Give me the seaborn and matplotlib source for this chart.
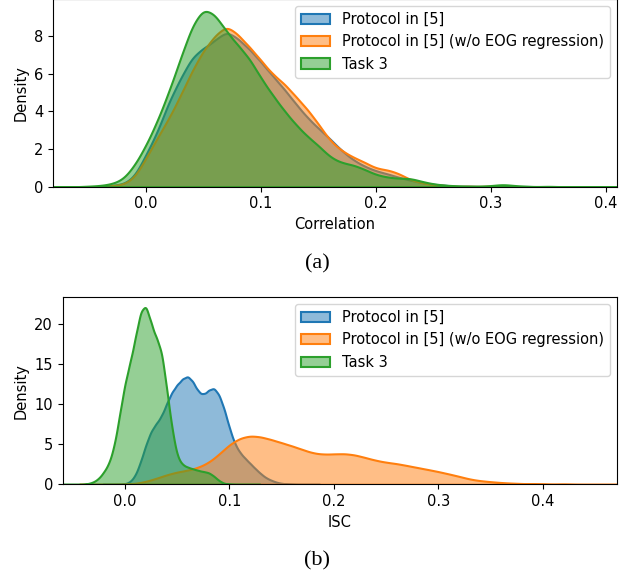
import numpy as np
import matplotlib
matplotlib.use("Agg")
import matplotlib.pyplot as plt
import seaborn as sns

labels = ["Protocol in [5]", "Protocol in [5] (w/o EOG regression)", "Task 3"]
colors = ["#1f77b4", "#ff7f0e", "#2ca02c"]

# ---- (a) Correlation: density values ----
corr_x_blue = [-0.05, -0.03, -0.02, -0.01, 0.0, 0.01, 0.02, 0.03, 0.04, 0.05, 0.06, 0.07,
               0.08, 0.09, 0.10, 0.11, 0.12, 0.13, 0.14, 0.15, 0.16, 0.17, 0.18, 0.19,
               0.20, 0.21, 0.22, 0.23, 0.24, 0.25, 0.26, 0.28, 0.30, 0.33, 0.38]
corr_d_blue = [0.0, 0.05, 0.12, 0.5, 1.75, 2.95, 4.65, 5.85, 7.05, 7.5, 7.9, 8.5,
               8.0, 7.45, 6.75, 6.0, 5.3, 4.5, 3.75, 3.15, 2.6, 1.95, 1.45, 1.1,
               0.85, 0.7, 0.5, 0.35, 0.22, 0.12, 0.06, 0.02, 0.01, 0.005, 0.0]

corr_x_orange = [-0.05, -0.03, -0.02, -0.01, 0.0, 0.01, 0.02, 0.03, 0.04, 0.05, 0.06, 0.07,
                 0.08, 0.09, 0.10, 0.11, 0.12, 0.13, 0.14, 0.15, 0.16, 0.17, 0.18, 0.19,
                 0.20, 0.21, 0.22, 0.23, 0.24, 0.25, 0.26, 0.28, 0.30, 0.38]
corr_d_orange = [0.0, 0.04, 0.1, 0.45, 1.5, 2.6, 3.6, 4.8, 6.1, 7.2, 7.95, 8.55,
                 8.0, 7.35, 6.65, 5.9, 5.45, 4.75, 4.1, 3.3, 2.4, 1.9, 1.55, 1.3,
                 0.95, 0.9, 0.7, 0.35, 0.2, 0.1, 0.05, 0.02, 0.01, 0.0]

corr_x_green = [-0.06, -0.05, -0.04, -0.03, -0.02, -0.01, 0.0, 0.01, 0.02, 0.03, 0.04, 0.05,
                0.06, 0.07, 0.08, 0.09, 0.10, 0.11, 0.12, 0.13, 0.14, 0.15, 0.16, 0.17,
                0.18, 0.19, 0.20, 0.21, 0.22, 0.23, 0.24, 0.25, 0.26, 0.27, 0.28, 0.29,
                0.30, 0.31, 0.32, 0.33, 0.35, 0.39]
corr_d_green = [0.0, 0.03, 0.06, 0.15, 0.38, 1.15, 2.25, 3.6, 5.2, 7.0, 8.8, 9.8,
                9.4, 8.45, 7.7, 7.0, 5.9, 5.0, 4.15, 3.4, 2.75, 2.25, 1.6, 1.3,
                1.2, 0.95, 0.65, 0.52, 0.45, 0.47, 0.28, 0.15, 0.08, 0.05, 0.03, 0.03,
                0.05, 0.14, 0.06, 0.02, 0.01, 0.0]

# ---- (b) ISC ----
isc_x_blue = [-0.005, 0.0, 0.005, 0.01, 0.015, 0.02, 0.025, 0.03, 0.035, 0.04, 0.045, 0.05,
              0.055, 0.06, 0.065, 0.07, 0.075, 0.08, 0.085, 0.09, 0.095, 0.10, 0.105, 0.11,
              0.115, 0.12, 0.125, 0.13, 0.135, 0.14, 0.145, 0.15, 0.155, 0.16, 0.17]
isc_d_blue = [0.0, 0.05, 0.3, 1.1, 2.8, 4.9, 6.6, 7.5, 8.4, 10.0, 11.4, 12.3,
              13.0, 13.4, 12.7, 11.4, 11.0, 11.6, 11.95, 11.1, 9.3, 6.9, 5.0, 3.9,
              3.2, 2.55, 1.9, 1.3, 0.8, 0.5, 0.25, 0.12, 0.05, 0.02, 0.0]

isc_x_orange = [-0.01, 0.0, 0.01, 0.02, 0.03, 0.04, 0.05, 0.06, 0.07, 0.08, 0.09, 0.10,
                0.11, 0.12, 0.13, 0.14, 0.15, 0.16, 0.17, 0.18, 0.19, 0.20, 0.21, 0.22,
                0.23, 0.24, 0.25, 0.26, 0.27, 0.28, 0.29, 0.30, 0.31, 0.32, 0.33, 0.34,
                0.35, 0.36, 0.37, 0.38, 0.39, 0.40, 0.42, 0.45]
isc_d_orange = [0.0, 0.02, 0.1, 0.35, 0.75, 1.2, 1.55, 1.75, 2.1, 2.7, 3.75, 5.0,
                5.8, 6.1, 5.95, 5.6, 5.2, 4.8, 4.35, 3.9, 3.75, 3.8, 3.85, 3.7,
                3.35, 3.0, 2.75, 2.6, 2.35, 2.1, 1.85, 1.6, 1.3, 1.0, 0.65, 0.45,
                0.33, 0.22, 0.15, 0.1, 0.06, 0.04, 0.02, 0.0]

isc_x_green = [-0.04, -0.035, -0.03, -0.025, -0.02, -0.015, -0.01, -0.005, 0.0, 0.005, 0.01,
               0.015, 0.02, 0.025, 0.03, 0.035, 0.04, 0.045, 0.05, 0.055, 0.06, 0.065,
               0.07, 0.075, 0.08, 0.085, 0.09, 0.095, 0.10, 0.11]
isc_d_green = [0.0, 0.1, 0.3, 0.75, 1.6, 2.7, 5.0, 8.9, 12.8, 15.4, 18.5,
               21.9, 22.7, 20.2, 18.4, 16.9, 11.9, 6.9, 3.4, 2.45, 2.15, 1.95,
               1.75, 1.6, 1.5, 1.05, 0.45, 0.1, 0.02, 0.0]


def draw_density(ax, xs, ds, h, color, label):
    xs = np.asarray(xs, float)
    ds = np.asarray(ds, float)
    w = ds * np.gradient(xs)
    sd = np.sqrt(np.cov(xs, aweights=w))
    sns.kdeplot(x=xs, weights=w, bw_method=h / sd, fill=True, alpha=0.5,
                color=color, label=label, linewidth=1.5, gridsize=800, ax=ax)


plt.rcParams["font.size"] = 10.5

fig = plt.figure(figsize=(6.34, 5.77), dpi=100)
W, H = 634, 577

def place(l, r, t, b):
    return fig.add_axes([l / W, 1 - b / H, (r - l) / W, (b - t) / H])

ax1 = place(53, 617, -1, 186.7)
ax2 = place(62.7, 617, 297, 484.3)

draw_density(ax1, corr_x_blue, corr_d_blue, 0.0065, colors[0], labels[0])
draw_density(ax1, corr_x_orange, corr_d_orange, 0.0065, colors[1], labels[1])
draw_density(ax1, corr_x_green, corr_d_green, 0.0065, colors[2], labels[2])
ax1.set_xlim(-0.0809, 0.4096)
ax1.set_ylim(0, 9.98)
ax1.set_xticks([0.0, 0.1, 0.2, 0.3, 0.4])
ax1.set_yticks([0, 2, 4, 6, 8])
ax1.set_xlabel("Correlation")
ax1.set_ylabel("Density")
ax1.legend(loc="upper right")

draw_density(ax2, isc_x_blue, isc_d_blue, 0.003, colors[0], labels[0])
draw_density(ax2, isc_x_orange, isc_d_orange, 0.0065, colors[1], labels[1])
draw_density(ax2, isc_x_green, isc_d_green, 0.003, colors[2], labels[2])
ax2.set_xlim(-0.0597, 0.4713)
ax2.set_ylim(0, 23.4)
ax2.set_xticks([0.0, 0.1, 0.2, 0.3, 0.4])
ax2.set_yticks([0, 5, 10, 15, 20])
ax2.set_xlabel("ISC")
ax2.set_ylabel("Density")
ax2.legend(loc="upper right")

fig.text(0.5, 1 - 264 / H, "(a)", ha="center", va="center",
         family="Liberation Serif", fontsize=16)
fig.text(0.5, 1 - 561 / H, "(b)", ha="center", va="center",
         family="Liberation Serif", fontsize=16)

fig.savefig("out.png", dpi=100)
